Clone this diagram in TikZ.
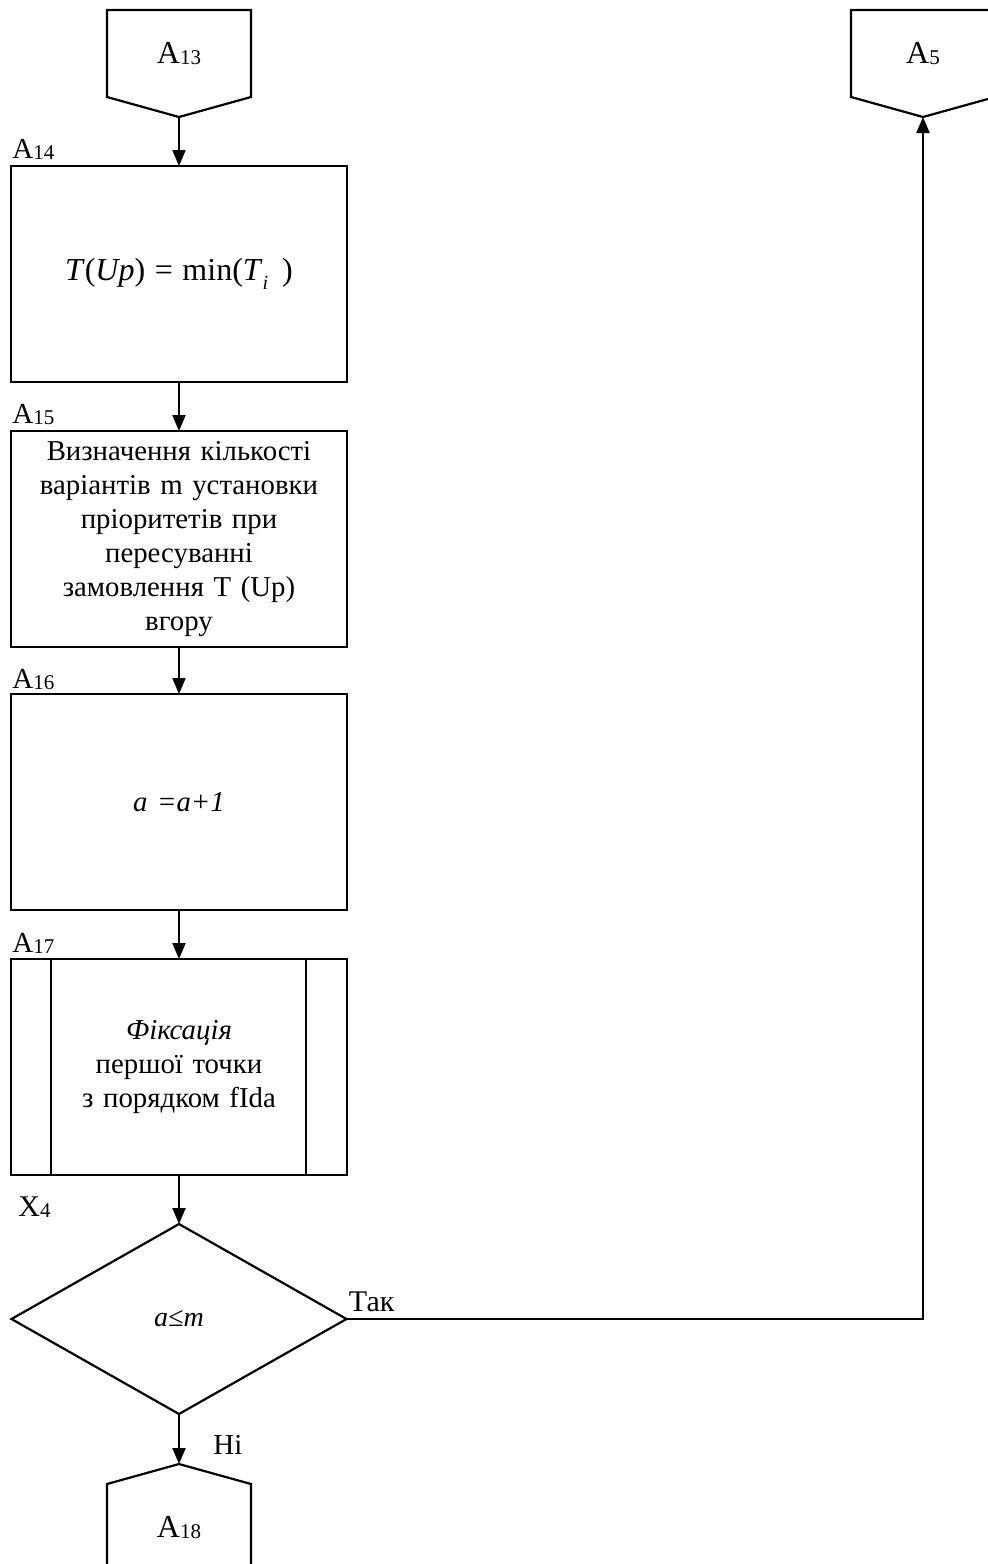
\documentclass[tikz,border=0pt]{standalone}
\usepackage{fontspec}
\setmainfont{Liberation Serif}
\usetikzlibrary{shapes.geometric,arrows.meta,positioning}
\tikzstyle{line} = [draw, line width=1.1pt, -{Triangle[length=8pt,width=6.5pt]}]
\tikzstyle{block} = [rectangle, draw, line width=1.1pt, outer sep=0pt, minimum width=168pt, minimum height=108pt, text width=160pt, align=center, inner sep=0pt, font=\fontsize{14.4}{17}\selectfont]
\tikzstyle{decision} = [diamond, draw, line width=1.1pt, outer sep=0pt, minimum width=167.5pt, minimum height=95pt, inner sep=0pt, font=\fontsize{14}{16}\selectfont]
\tikzstyle{conn} = [rectangle, outer sep=0pt, minimum width=72pt, minimum height=43.5pt, inner sep=0pt, font=\fontsize{16}{18}\selectfont]
\tikzstyle{tag} = [anchor=base west, inner sep=0pt, font=\fontsize{14.5}{16}\selectfont]
\newcommand{\idx}[2]{#1\raisebox{-0.5pt}{\fontsize{10.5}{10}\selectfont #2}}

\begin{document}
\begin{tikzpicture}[x=0.5pt, y=-0.5pt]
	\useasboundingbox (0,0) rectangle (987,1564);
	\node [conn] (a13) at (179,53.5) {\idx{A}{13}};
	\coordinate (a13tip) at ([yshift=-10pt]a13.south);
	\draw [line width=1.1pt] (a13.south west) -- (a13.north west) -- (a13.north east) -- (a13.south east) -- (a13tip) -- cycle;
	\node [conn] (a5) at (923,53.5) {\idx{A}{5}};
	\coordinate (a5tip) at ([yshift=-10pt]a5.south);
	\draw [line width=1.1pt] (a5.south west) -- (a5.north west) -- (a5.north east) -- (a5.south east) -- (a5tip) -- cycle;
	\node [block, below=24.5pt of a13tip] (a14) {\fontsize{16}{18}\selectfont\textit{T}(\textit{Up}) = min(\textit{T}\raisebox{-4.5pt}{\fontsize{10}{10}\selectfont\textit{i}}\hspace{7pt})};
	\node [block, below=24.5pt of a14] (a15) {Визначення кількості\\ варіантів m установки\\ пріоритетів при\\ пересуванні\\ замовлення Т (Up)\\ вгору};
	\node [block, below=23.5pt of a15] (a16) {\textit{a =a+1}};
	\node [block, below=24.5pt of a16] (a17) {\textit{Фіксація}\\ першої точки\\ з порядком fIda};
	\draw [line width=1.1pt] ([xshift=20pt]a17.north west) -- ([xshift=20pt]a17.south west);
	\draw [line width=1.1pt] ([xshift=-20.5pt]a17.north east) -- ([xshift=-20.5pt]a17.south east);
	\node [decision, below=24.5pt of a17] (dec) {\textit{a≤m}};
	\coordinate [below=25pt of dec] (a18tip);
	\node [conn, below=10pt of a18tip] (a18) {\idx{A}{18}};
	\draw [line width=1.1pt] (a18.south west) -- (a18.north west) -- (a18tip) -- (a18.north east) -- (a18.south east);
	% labels
	\node [tag] (t14) at ([xshift=0.5pt,yshift=4pt]a14.north west) {\idx{A}{14}};
	\node [tag] (t15) at ([xshift=0.5pt,yshift=4pt]a15.north west) {\idx{A}{15}};
	\node [tag] (t16) at ([xshift=0.5pt,yshift=3pt]a16.north west) {\idx{A}{16}};
	\node [tag] (t17) at ([xshift=0.5pt,yshift=3.5pt]a17.north west) {\idx{A}{17}};
	\node [tag, font=\fontsize{15}{16}\selectfont] (x4) at ([xshift=3.5pt,yshift=-20.5pt]a17.south west) {\idx{X}{4}};
	\node [tag, font=\fontsize{15}{16}\selectfont] (yes) at ([xshift=1pt,yshift=4pt]dec.east) {Так};
	\node [tag, font=\fontsize{14.5}{16}\selectfont] (no) at ([xshift=17pt,yshift=-20pt]dec.south) {Ні};
	% arrows
	\path [line] (a13tip) -- (a14);
	\path [line] (a14) -- (a15);
	\path [line] (a15) -- (a16);
	\path [line] (a16) -- (a17);
	\path [line] (a17) -- (dec);
	\path [line] (dec) -- (a18tip);
	\path [line] (dec.east) -| (a5tip);
\end{tikzpicture}
\end{document}
